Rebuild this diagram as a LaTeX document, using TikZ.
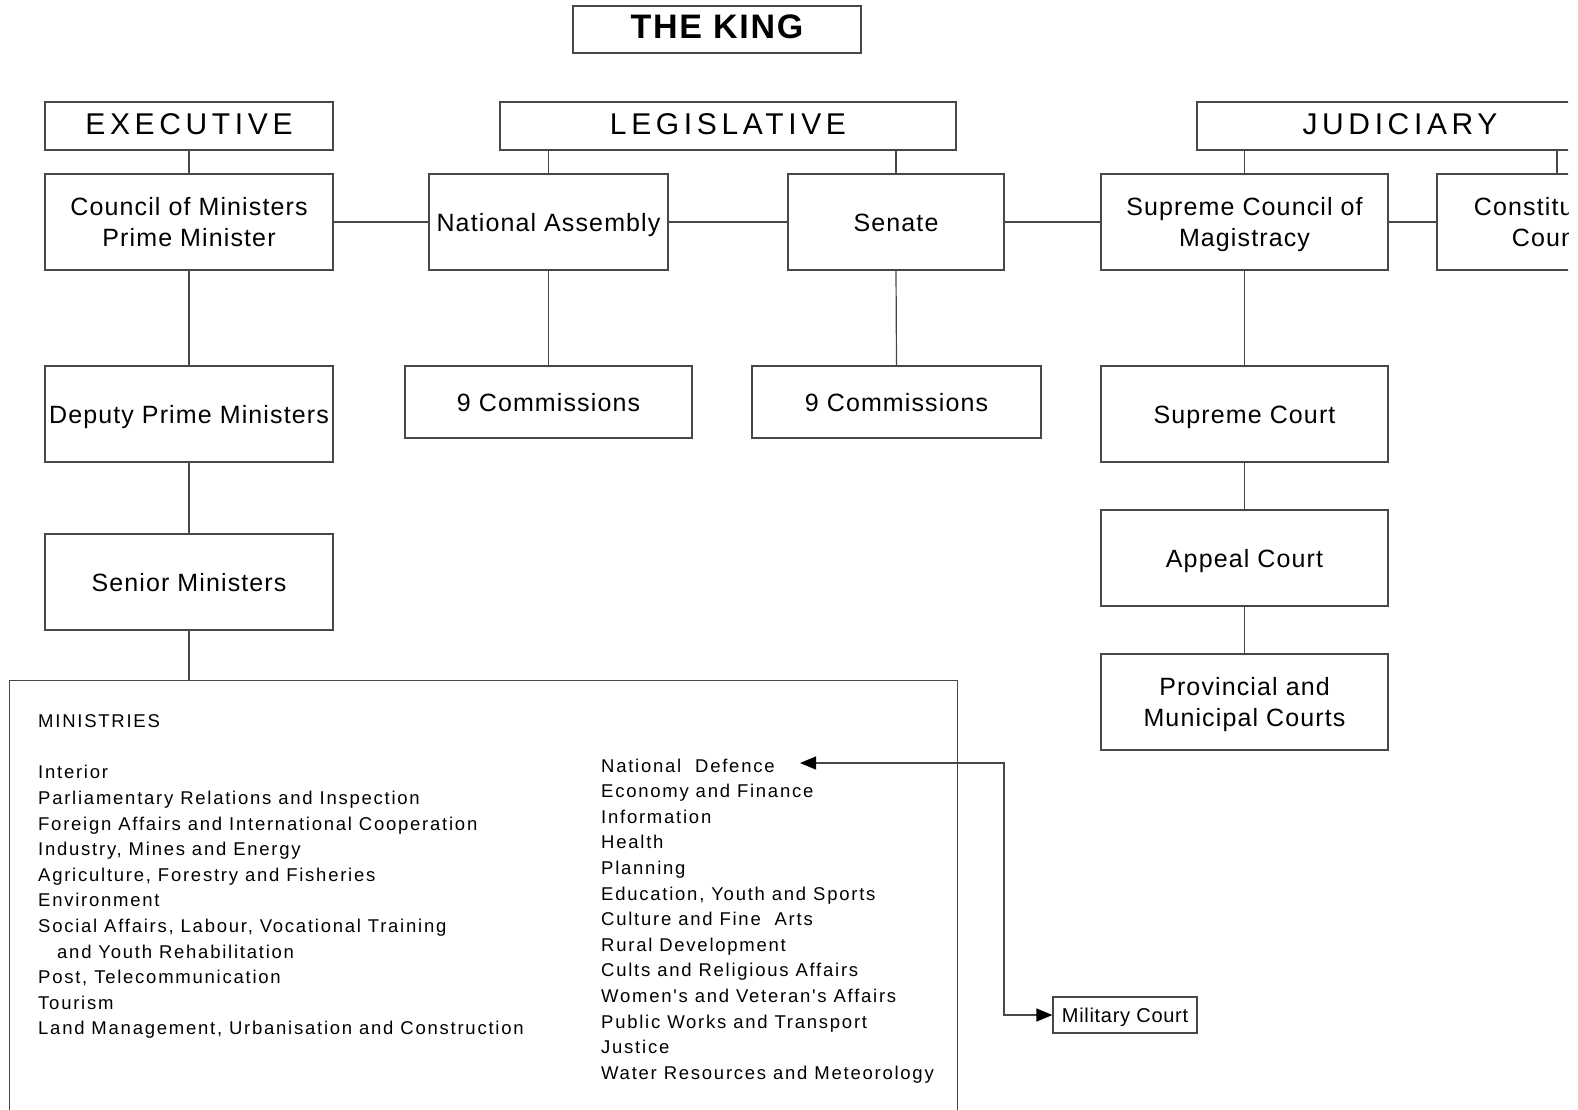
\documentclass[tikz,border=0pt]{standalone}
\usepackage{fontspec}
\setmainfont{Liberation Sans}
\newfontfamily\fking[LetterSpace=5]{Liberation Sans}
\newfontfamily\fhead[LetterSpace=15.5]{Liberation Sans}
\newfontfamily\fboxlab[LetterSpace=4.5]{Liberation Sans}
\newfontfamily\fminis[LetterSpace=9.5]{Liberation Sans}
\newfontfamily\fmil[LetterSpace=3.5]{Liberation Sans}
\usetikzlibrary{arrows.meta}
\begin{document}
\begin{tikzpicture}[x=1pt,y=-1pt,
  lin/.style={draw=black!72, line width=1.2pt},
  bx/.style={lin, rectangle, inner sep=0pt, align=center},
  kingbox/.style={bx, minimum width=288pt, minimum height=47pt, font=\fking\bfseries\fontsize{34}{40}\selectfont, text height=17.6pt, text depth=0pt},
  headbox/.style={bx, minimum height=48pt, font=\fhead\fontsize{30}{36}\selectfont, text height=16.6pt, text depth=0pt},
  onebox/.style={bx, minimum height=96pt, font=\fboxlab\fontsize{25}{31}\selectfont, text height=18pt, text depth=0pt},
  twobox/.style={bx, minimum height=96pt, font=\fboxlab\fontsize{25}{31}\selectfont, text depth=0pt},
  combox/.style={onebox, minimum height=72pt},
  milbox/.style={bx, minimum width=144pt, minimum height=36pt, font=\fmil\fontsize{20}{24}\selectfont, text height=14.6pt, text depth=0pt},
  mintext/.style={anchor=north west, inner sep=0pt, align=left, font=\fminis\fontsize{18.5}{25.6}\selectfont},
  tip/.style={{Triangle[length=16pt,width=13pt,fill=black,color=black]}-{Triangle[length=16pt,width=13pt,fill=black,color=black]}}
]
\path[use as bounding box] (0,0) rectangle (1578,1109);
\begin{scope}
\clip (0,0) rectangle (1568,1109);
% boxes
\node[kingbox] (king) at (717,29.5) {THE KING};
\node[headbox, minimum width=288pt] (exec) at (189,126) {EXECUTIVE};
\node[headbox, minimum width=456pt] (legis) at (728,126) {LEGISLATIVE};
\node[headbox, minimum width=406pt] (judic) at (1400,126) {JUDICIARY};

\node[twobox, minimum width=288pt] (com) at (189,222) {Council of Ministers\\Prime Minister};
\node[onebox, minimum width=239pt] (na) at (548.5,222) {National Assembly};
\node[onebox, minimum width=216pt] (sen) at (896,222) {Senate};
\node[twobox, minimum width=287pt] (scm) at (1244.5,222) {Supreme Council of\\Magistracy};
\node[twobox, minimum width=240pt] (cc) at (1557,222) {Constitutional\\Council};

\node[onebox, minimum width=288pt] (dpm) at (189,414) {Deputy Prime Ministers};
\node[combox, minimum width=287pt] (c9a) at (548.5,402) {9 Commissions};
\node[combox, minimum width=289pt] (c9b) at (896.5,402) {9 Commissions};
\node[onebox, minimum width=287pt] (sc) at (1244.5,414) {Supreme Court};
\node[onebox, minimum width=287pt] (ac) at (1244.5,558) {Appeal Court};
\node[twobox, minimum width=287pt] (pmc) at (1244.5,702) {Provincial and\\Municipal Courts};
\node[onebox, minimum width=288pt] (sm) at (189,582) {Senior Ministers};

\node[lin, rectangle, inner sep=0pt, anchor=north west, minimum width=948pt, minimum height=470pt] (min) at (9,680) {};

\node[mintext] (mcol1) at (38,714.5) {MINISTRIES\\[25.6pt]
Interior\\
Parliamentary Relations and Inspection\\
Foreign Affairs and International Cooperation\\
Industry, Mines and Energy\\
Agriculture, Forestry and Fisheries\\
Environment\\
Social Affairs, Labour, Vocational Training\\
\hspace*{19pt}and Youth Rehabilitation\\
Post, Telecommunication\\
Tourism\\
Land Management, Urbanisation and Construction};

\node[mintext] (mcol2) at (601,758.5) {National\ \ Defence\\
Economy and Finance\\
Information\\
Health\\
Planning\\
Education, Youth and Sports\\
Culture and Fine\ \ Arts\\
Rural Development\\
Cults and Religious Affairs\\
Women's and Veteran's Affairs\\
Public Works and Transport\\
Justice\\
Water Resources and Meteorology};

\node[milbox] (mil) at (1125,1015) {Military Court};

% connectors
\draw[lin] (exec.south) -- (com.north);
\draw[lin] (legis.south -| na.north) -- (na.north);
\draw[lin] (legis.south -| sen.north) -- (sen.north);
\draw[lin] (judic.south -| scm.north) -- (scm.north);
\draw[lin] (judic.south -| cc.north) -- (cc.north);
\draw[lin] (com.east) -- (na.west);
\draw[lin] (na.east) -- (sen.west);
\draw[lin] (sen.east) -- (scm.west);
\draw[lin] (scm.east) -- (cc.west);
\draw[lin] (com.south) -- (dpm.north);
\draw[lin] (dpm.south) -- (sm.north);
\draw[lin] (sm.south) -- (sm.south |- min.north);
\draw[lin] (na.south) -- (c9a.north);
\draw[lin] (sen.south) -- (c9b.north);
\draw[lin] (scm.south) -- (sc.north);
\draw[lin] (sc.south) -- (ac.north);
\draw[lin] (ac.south) -- (pmc.north);

\coordinate (ndtip) at (800,763);
\coordinate (bend) at (1004,900);
\draw[lin, tip] (ndtip) -| (bend) |- (mil.west);
\end{scope}
\end{tikzpicture}
\end{document}
